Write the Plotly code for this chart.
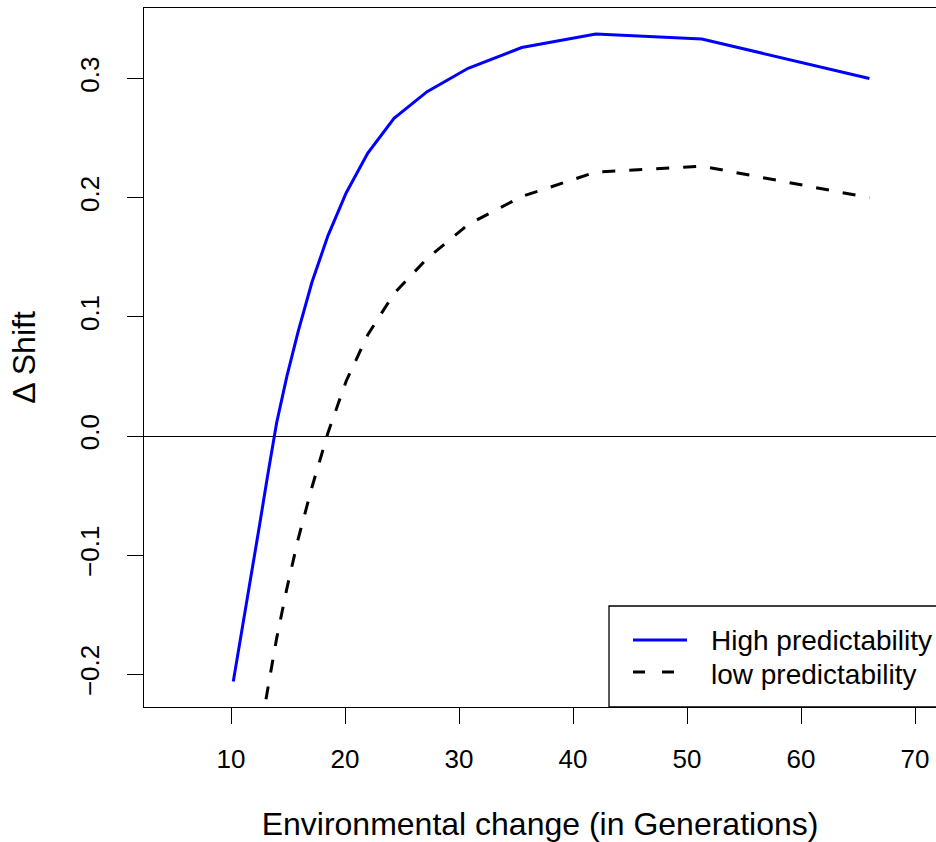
import plotly.graph_objects as go

# Environmental change period (generations) and response of the shift
generations = [10.2, 10.7, 11.3, 11.8, 12.5, 13.2, 14.0, 14.9, 15.9, 17.1,
               18.5, 20.1, 22.0, 24.3, 27.2, 30.8, 35.5, 42.0, 51.3, 66.0]
high_pred = [-0.206, -0.178, -0.144, -0.116, -0.075, -0.034, 0.011, 0.050, 0.088, 0.129,
             0.168, 0.204, 0.2375, 0.2666, 0.289, 0.3086, 0.326, 0.3374, 0.3332, 0.300]
low_pred = [-0.40, -0.36, -0.32, -0.29, -0.251, -0.211, -0.170, -0.128, -0.086, -0.043,
            0.0025, 0.046, 0.085, 0.1195, 0.149, 0.1775, 0.201, 0.2215, 0.2265, 0.200]

x_ticks = [10, 20, 30, 40, 50, 60, 70]
y_ticks = [-0.2, -0.1, 0.0, 0.1, 0.2, 0.3]
y_ticktext = ["\u22120.2", "\u22120.1", "0.0", "0.1", "0.2", "0.3"]

series_names = ["High predictability", "low predictability"]

FONT = "Liberation Sans, Arial, Helvetica, sans-serif"
X_RANGE = [2.368, 71.842]
Y_RANGE = [-0.2274, 0.3592]

fig = go.Figure()
fig.add_trace(go.Scatter(x=generations, y=high_pred, mode="lines", name=series_names[0],
                         line=dict(color="#0000ff", width=3), showlegend=False))
fig.add_trace(go.Scatter(x=generations, y=low_pred, mode="lines", name=series_names[1],
                         line=dict(color="black", width=3, dash="13px,14px"), showlegend=False))

# Legend box in the lower right, positioned in pixel offsets of the figure
W, H = 936, 842
ML, MT, MB = 144, 8, 135
pw, ph = W - ML, H - MT - MB


def px_x(p):
    return (p - ML) / pw


def px_y(p):
    return (H - MB - p) / ph


shapes = [
    dict(type="rect", xref="paper", yref="paper", x0=px_x(609), x1=px_x(980),
         y0=0, y1=px_y(606), line=dict(color="black", width=1.3), fillcolor="white",
         layer="above"),
    dict(type="line", xref="paper", yref="paper", x0=px_x(633), x1=px_x(687),
         y0=px_y(640), y1=px_y(640), line=dict(color="#0000ff", width=3), layer="above"),
    dict(type="line", xref="paper", yref="paper", x0=px_x(633), x1=px_x(687),
         y0=px_y(672), y1=px_y(672), line=dict(color="black", width=3, dash="12px,17px"),
         layer="above"),
]
annotations = [
    dict(xref="paper", yref="paper", x=px_x(709), y=px_y(y0), text=t, showarrow=False,
         xanchor="left", yanchor="middle", font=dict(family=FONT, size=28, color="black"))
    for t, y0 in zip(series_names, [640, 674])
]

fig.update_layout(
    width=W, height=H,
    margin=dict(l=ML, r=0, t=MT, b=MB),
    paper_bgcolor="white", plot_bgcolor="white",
    font=dict(family=FONT, size=26, color="black"),
    shapes=shapes, annotations=annotations,
    xaxis=dict(range=X_RANGE, tickvals=x_ticks, ticks="outside", ticklen=16, tickwidth=1.3,
               tickcolor="black", showline=True, mirror=True, linecolor="black", linewidth=1.3,
               showgrid=False, zeroline=False, ticklabelstandoff=13,
               title=dict(text="Environmental change (in Generations)",
                          font=dict(size=32), standoff=39)),
    yaxis=dict(range=Y_RANGE, tickvals=y_ticks, ticktext=y_ticktext, ticks="outside",
               ticklen=16, tickwidth=1.3, tickcolor="black", tickangle=-90,
               showline=True, mirror=False, linecolor="black", linewidth=1.3,
               showgrid=False, zeroline=True, zerolinecolor="black", zerolinewidth=1.3,
               ticklabelstandoff=17,
               title=dict(text="\u0394 Shift", font=dict(size=32), standoff=30)),
)

fig.write_html("out.html")
